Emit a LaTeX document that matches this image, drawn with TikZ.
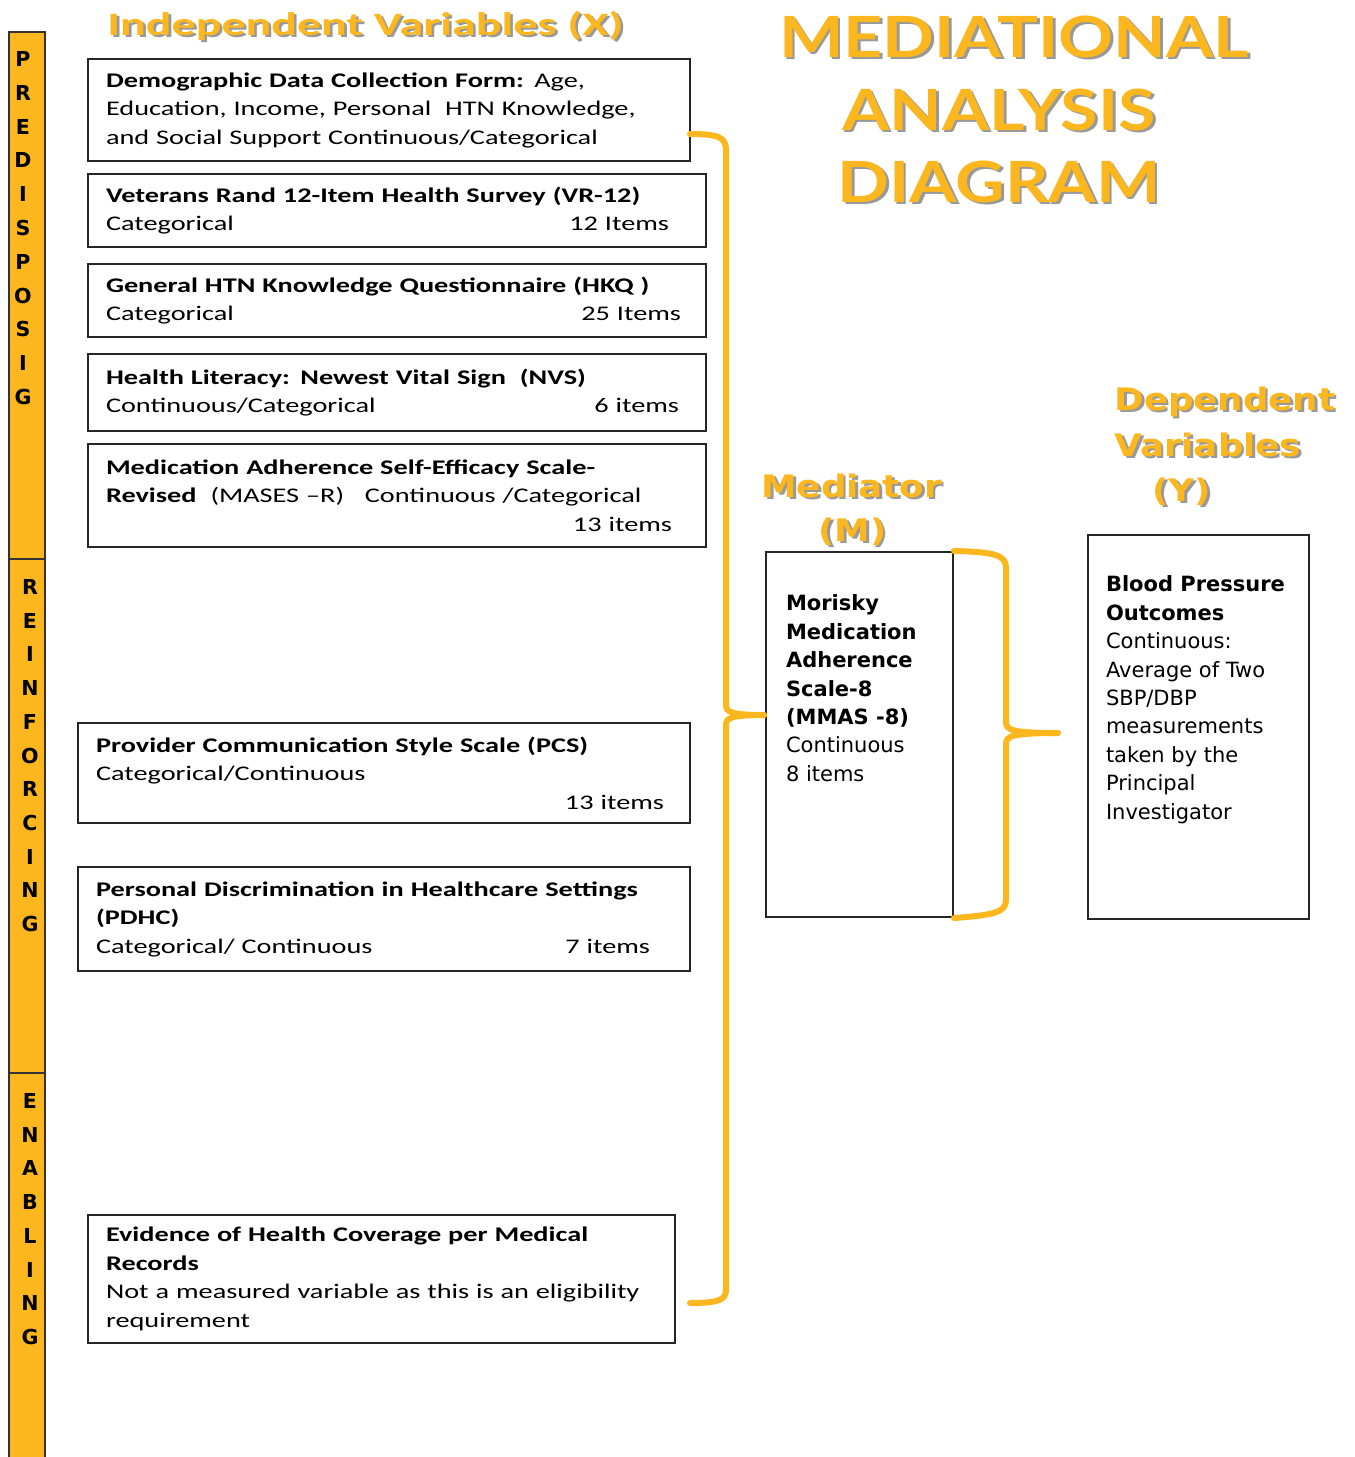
\documentclass[tikz,border=0pt]{standalone}
\usepackage{fontspec}
\setmainfont{Carlito}[FakeStretch=1.36]
\newfontfamily\headfont{Carlito}[FakeStretch=1.47]
\newfontfamily\titlefont{Lato}[FakeStretch=1.2]
\newfontfamily\vfont{DejaVu Sans}
\newfontfamily\vheadfont{DejaVu Sans}[FakeStretch=1.15]

\definecolor{amber}{RGB}{253,183,30}

% gray drop shadow behind the orange headings
\newcommand{\castshadow}[1]{\makebox[0pt][l]{\kern1.3pt\raisebox{-1.3pt}{\color{black!40}#1}}#1}
% right-hand item count inside a box line
\newcommand{\itm}[2]{\hspace*{\stretch{1}}#1\kern#2}

\tikzset{
  varbox/.style={draw=black!85, line width=1pt, rectangle, anchor=north west,
    align=left, inner xsep=9pt, inner ysep=0pt,
    font=\fontsize{10.4}{14.25}\selectfont},
  medbox/.style={draw=black!85, line width=1pt, rectangle, anchor=north west,
    inner sep=0pt, font=\vfont\fontsize{10.5}{14.2}\selectfont},
  sidebar/.style={draw=black!80, line width=0.8pt, fill=amber},
  sideletter/.style={inner sep=0pt, font=\vfont\bfseries\fontsize{10.3}{12}\selectfont},
  heading/.style={text=amber, inner sep=0pt},
  bracket/.style={draw=amber, line width=3pt, line cap=round, line join=round},
}

\begin{document}
\begin{tikzpicture}[x=0.5pt, y=-0.5pt]
  \useasboundingbox (0,0) rectangle (1355,1457);

  % 1. left bar: predisposing / reinforcing / enabling
  \draw[sidebar] (9,32) rectangle (45,559);
  \draw[sidebar] (9,559) rectangle (45,1073);
  \draw[sidebar] (9,1073) rectangle (45,1462);
  \foreach \l [count=\i from 0] in {P,R,E,D,I,S,P,O,S,I,G}
    \node[sideletter] (pre\i) at (23, 59+33.8*\i) {\l};
  \foreach \l [count=\i from 0] in {R,E,I,N,F,O,R,C,I,N,G}
    \node[sideletter] (rein\i) at (30, 587+33.7*\i) {\l};
  \foreach \l [count=\i from 0] in {E,N,A,B,L,I,N,G}
    \node[sideletter] (enab\i) at (30, 1101+33.7*\i) {\l};

  % 2. headings
  \node[heading, anchor=base west, font=\headfont\bfseries\fontsize{16.3}{20}\selectfont]
    (indephead) at (107,35) {\castshadow{Independent Variables (X)}};
  \node[heading, anchor=base, font=\titlefont\bfseries\fontsize{28.4}{36}\selectfont]
    (title1) at (1014,57) {\castshadow{MEDIATIONAL}};
  \node[heading, anchor=base, font=\titlefont\bfseries\fontsize{28.4}{36}\selectfont]
    (title2) at (999,130) {\castshadow{ANALYSIS}};
  \node[heading, anchor=base, font=\titlefont\bfseries\fontsize{28.4}{36}\selectfont]
    (title3) at (999,202) {\castshadow{DIAGRAM}};
  \node[heading, anchor=base west, font=\vheadfont\bfseries\fontsize{15.5}{22}\selectfont]
    (medhead1) at (761,497) {\castshadow{Mediator}};
  \node[heading, anchor=base west, font=\vheadfont\bfseries\fontsize{15.5}{22}\selectfont]
    (medhead2) at (818,541) {\castshadow{(M)}};
  \node[heading, anchor=base west, font=\vheadfont\bfseries\fontsize{15.5}{22}\selectfont]
    (dephead1) at (1114,410) {\castshadow{Dependent}};
  \node[heading, anchor=base west, font=\vheadfont\bfseries\fontsize{15.5}{22}\selectfont]
    (dephead2) at (1114,456) {\castshadow{Variables}};
  \node[heading, anchor=base west, font=\vheadfont\bfseries\fontsize{15.5}{22}\selectfont]
    (dephead3) at (1152,501) {\castshadow{(Y)}};

  % 3. independent variable boxes
  \node[varbox, text width=283pt, minimum height=51pt] (demo) at (87,58)
    {\textbf{Demographic Data Collection Form:} Age,\\
     Education, Income, Personal\ \ HTN Knowledge,\\
     and Social Support Continuous/Categorical};
  \node[varbox, text width=291pt, minimum height=36.5pt] (vr) at (87,173)
    {\textbf{Veterans Rand 12-Item Health Survey (VR-12)}\\
     Categorical \itm{12 Items}{9.5pt}};
  \node[varbox, text width=291pt, minimum height=36.5pt] (hkq) at (87,263)
    {\textbf{General HTN Knowledge Questionnaire (HKQ )}\\
     Categorical \itm{25 Items}{3.5pt}};
  \node[varbox, text width=291pt, minimum height=38.5pt] (nvs) at (87,353)
    {\textbf{Health Literacy: Newest Vital Sign\ \ (NVS)}\\
     Continuous/Categorical \itm{6 items}{4.5pt}};
  \node[varbox, text width=291pt, minimum height=51.5pt] (mases) at (87,443)
    {\textbf{Medication Adherence Self-Efficacy Scale-}\\
     \textbf{Revised}\ \ (MASES –R)\ \ \ Continuous /Categorical\\
     \itm{13 items}{8pt}};
  \node[varbox, text width=288pt, minimum height=50pt] (pcs) at (77,722)
    {\textbf{Provider Communication Style Scale (PCS)}\\
     Categorical/Continuous\\
     \itm{13 items}{4pt}};
  \node[varbox, text width=288pt, minimum height=52pt] (pdhc) at (77,866)
    {\textbf{Personal Discrimination in Healthcare Settings}\\
     \textbf{(PDHC)}\\
     Categorical/ Continuous \itm{7 items}{11pt}};
  \node[varbox, text width=275.5pt, minimum height=64pt] (evid) at (87,1214)
    {\textbf{Evidence of Health Coverage per Medical}\\
     \textbf{Records}\\
     Not a measured variable as this is an eligibility\\
     requirement};

  % 4. mediator and dependent boxes
  \node[medbox] (med) at (765,551)
    {\hspace*{10pt}\parbox[c][182.5pt][t]{83.5pt}{\raggedright\vspace*{21.5pt}%
     \textbf{Morisky}\\ \textbf{Medication}\\ \textbf{Adherence}\\
     \textbf{Scale-8}\\ \textbf{(MMAS -8)}\\ Continuous\\ 8 items}};
  \node[medbox] (dep) at (1087,534)
    {\hspace*{9pt}\parbox[c][192pt][t]{101.5pt}{\raggedright\vspace*{20.5pt}%
     \textbf{Blood Pressure}\\ \textbf{Outcomes}\\ Continuous:\\
     Average of Two\\ SBP/DBP\\ measurements\\ taken by the\\
     Principal\\ Investigator}};

  % 5. braces: X -> M, M -> Y
  \coordinate (xtop) at (690,134);
  \coordinate (xbot) at (690,1303);
  \coordinate (xtip) at (764,715);
  \coordinate (mtip) at (1058,733);
  \draw[bracket] (xtop) .. controls (718,134) and (726,137) .. (726,150)
    -- (726,705) .. controls (726,712) and (731,715) .. (xtip);
  \draw[bracket] (xtip) .. controls (731,715) and (726,718) .. (726,725)
    -- (726,1290) .. controls (726,1300) and (718,1303) .. (xbot);
  \draw[bracket] (med.north east) .. controls (995,552) and (1006,555) .. (1006,568)
    -- (1006,722) .. controls (1006,730) and (1012,733) .. (mtip);
  \draw[bracket] (mtip) .. controls (1012,733) and (1006,736) .. (1006,744)
    -- (1006,900) .. controls (1006,912) and (995,915) .. (med.south east);

\end{tikzpicture}
\end{document}
